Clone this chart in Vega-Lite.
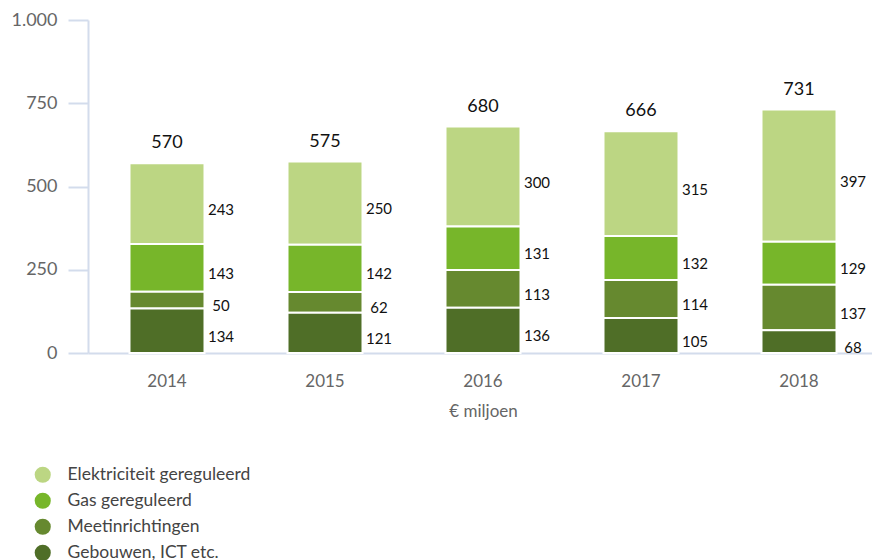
{
  "$schema": "https://vega.github.io/schema/vega-lite/v6.json",
  "width": 790,
  "height": 333,
  "autosize": {"type": "none"},
  "padding": {"left": 88, "top": 20, "right": 0, "bottom": 207},
  "background": "white",
  "config": {
    "font": "Lato",
    "view": {"stroke": null},
    "axis": {"grid": false}
  },
  "data": {
    "values": [
      {"year": "2014", "cat": "Elektriciteit gereguleerd", "value": 243},
      {"year": "2014", "cat": "Gas gereguleerd", "value": 143},
      {"year": "2014", "cat": "Meetinrichtingen", "value": 50},
      {"year": "2014", "cat": "Gebouwen, ICT etc.", "value": 134},
      {"year": "2015", "cat": "Elektriciteit gereguleerd", "value": 250},
      {"year": "2015", "cat": "Gas gereguleerd", "value": 142},
      {"year": "2015", "cat": "Meetinrichtingen", "value": 62},
      {"year": "2015", "cat": "Gebouwen, ICT etc.", "value": 121},
      {"year": "2016", "cat": "Elektriciteit gereguleerd", "value": 300},
      {"year": "2016", "cat": "Gas gereguleerd", "value": 131},
      {"year": "2016", "cat": "Meetinrichtingen", "value": 113},
      {"year": "2016", "cat": "Gebouwen, ICT etc.", "value": 136},
      {"year": "2017", "cat": "Elektriciteit gereguleerd", "value": 315},
      {"year": "2017", "cat": "Gas gereguleerd", "value": 132},
      {"year": "2017", "cat": "Meetinrichtingen", "value": 114},
      {"year": "2017", "cat": "Gebouwen, ICT etc.", "value": 105},
      {"year": "2018", "cat": "Elektriciteit gereguleerd", "value": 397},
      {"year": "2018", "cat": "Gas gereguleerd", "value": 129},
      {"year": "2018", "cat": "Meetinrichtingen", "value": 137},
      {"year": "2018", "cat": "Gebouwen, ICT etc.", "value": 68}
    ]
  },
  "transform": [
    {"calculate": "indexof(['Elektriciteit gereguleerd','Gas gereguleerd','Meetinrichtingen','Gebouwen, ICT etc.'], datum.cat)", "as": "ord"},
    {"stack": "value", "groupby": ["year"], "sort": [{"field": "ord", "order": "descending"}], "as": ["v0", "v1"]},
    {"calculate": "(datum.v0 + datum.v1) / 2", "as": "mid"}
  ],
  "encoding": {
    "x": {
      "field": "year",
      "type": "nominal",
      "title": "€ miljoen",
      "scale": {"paddingInner": 0.525, "paddingOuter": 0.2625},
      "axis": {
        "labelAngle": 0,
        "ticks": false,
        "domainColor": "#d3dcec",
        "domainWidth": 2,
        "labelFontSize": 17,
        "labelColor": "#666666",
        "labelPadding": 20,
        "titleFontSize": 17,
        "titleFontWeight": "normal",
        "titleColor": "#666666",
        "titlePadding": 14
      }
    }
  },
  "layer": [
    {
      "mark": {"type": "bar", "width": 75, "stroke": "white", "strokeWidth": 2},
      "encoding": {
        "y": {
          "field": "v0",
          "type": "quantitative",
          "title": null,
          "scale": {"domain": [0, 1000]},
          "axis": {
            "values": [0, 250, 500, 750, 1000],
            "labelExpr": "datum.value == 1000 ? '1.000' : datum.label",
            "tickSize": 20,
            "tickColor": "#d3dcec",
            "tickWidth": 2,
            "domainColor": "#d3dcec",
            "domainWidth": 2,
            "labelPadding": 11,
            "labelFontSize": 18,
            "labelColor": "#666666"
          }
        },
        "y2": {"field": "v1"},
        "color": {
          "field": "cat",
          "type": "nominal",
          "scale": {
            "domain": ["Elektriciteit gereguleerd", "Gas gereguleerd", "Meetinrichtingen", "Gebouwen, ICT etc."],
            "range": ["#bcd683", "#77b62a", "#66892f", "#4f6e27"]
          },
          "legend": {
            "title": null,
            "orient": "none",
            "legendX": -54,
            "legendY": 446,
            "symbolType": "circle",
            "symbolSize": 260,
            "symbolStrokeWidth": 0,
            "labelFontSize": 17.5,
            "labelLimit": 400,
            "labelColor": "#444444",
            "labelOffset": 16,
            "rowPadding": 7
          }
        }
      }
    },
    {
      "mark": {"type": "text", "align": "center", "baseline": "middle", "dx": 54, "dy": 6, "fontSize": 15, "color": "#111111"},
      "encoding": {
        "y": {"field": "mid", "type": "quantitative"},
        "text": {"field": "value", "type": "quantitative"}
      }
    },
    {
      "transform": [{"aggregate": [{"op": "sum", "field": "value", "as": "total"}], "groupby": ["year"]}],
      "mark": {"type": "text", "align": "center", "baseline": "middle", "dy": -20, "fontSize": 18, "color": "#111111"},
      "encoding": {
        "y": {"field": "total", "type": "quantitative"},
        "text": {"field": "total", "type": "quantitative"}
      }
    }
  ]
}
